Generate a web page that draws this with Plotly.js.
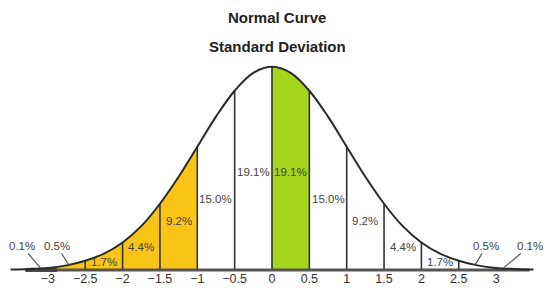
<!DOCTYPE html>
<html>
<head>
<meta charset="utf-8">
<script src="https://cdn.plot.ly/plotly-3.0.1.min.js"></script>
<style>html,body{margin:0;padding:0;background:#fff;}#chart{width:554px;height:290px;}</style>
</head>
<body>
<div id="chart"></div>
<script>
// ---- data ----
const curveX = [-3.5,-3.25,-3,-2.75,-2.5,-2.25,-2,-1.75,-1.5,-1.25,-1,-0.75,-0.5,-0.25,0,0.25,0.5,0.75,1,1.25,1.5,1.75,2,2.25,2.5,2.75,3,3.25,3.5];
const curveY = [0.001,0.002,0.004,0.009,0.018,0.032,0.054,0.086,0.130,0.183,0.242,0.301,0.352,0.387,0.399,0.387,0.352,0.301,0.242,0.183,0.130,0.086,0.054,0.032,0.018,0.009,0.004,0.002,0.001];
const dividers = [-2.5,-2,-1.5,-1,-0.5,0,0.5,1,1.5,2,2.5];
const yellowBand = [-3,-1];
const greenBand = [0,0.5];
const bandStart = [-3.5,-3,-2.5,-2,-1.5,-1,-0.5,0,0.5,1,1.5,2,2.5,3];
const bandEnd   = [-3,-2.5,-2,-1.5,-1,-0.5,0,0.5,1,1.5,2,2.5,3,3.5];
const bandPct   = ['0.1%','0.5%','1.7%','4.4%','9.2%','15.0%','19.1%','19.1%','15.0%','9.2%','4.4%','1.7%','0.5%','0.1%'];
const tickVals = [-3,-2.5,-2,-1.5,-1,-0.5,0,0.5,1,1.5,2,2.5,3];
const tickText = ['\u22123','\u22122.5','\u22122','\u22121.5','\u22121','\u22120.5','0','0.5','1','1.5','2','2.5','3'];
const titleText = 'Normal Curve';
const subtitleText = 'Standard Deviation';

// ---- helpers ----
function curveAt(x){ const i = curveX.indexOf(x); return curveY[i]; }
function segment(a,b){
  const xs=[], ys=[];
  curveX.forEach((x,i)=>{ if(x>=a-1e-9 && x<=b+1e-9){ xs.push(x); ys.push(curveY[i]); } });
  return {x:xs,y:ys};
}

const yellow = 'rgb(249,196,22)';
const green = 'rgb(166,214,28)';
const ink = '#2a2a2a';

const ys = segment(yellowBand[0], yellowBand[1]);
const gs = segment(greenBand[0], greenBand[1]);

const divX=[], divY=[];
dividers.forEach(d=>{ divX.push(d,d,null); divY.push(0,curveAt(d),null); });

const traces = [
  {x:ys.x, y:ys.y, type:'scatter', mode:'lines', line:{shape:'spline', width:0, color:yellow}, fill:'tozeroy', fillcolor:yellow, hoverinfo:'skip'},
  {x:gs.x, y:gs.y, type:'scatter', mode:'lines', line:{shape:'spline', width:0, color:green}, fill:'tozeroy', fillcolor:green, hoverinfo:'skip'},
  {x:divX, y:divY, type:'scatter', mode:'lines', line:{color:'#333', width:1.6}, hoverinfo:'skip'},
  {x:[curveX[0]+0.2, curveX[curveX.length-1]-0.05], y:[0,0], type:'scatter', mode:'lines', line:{color:'#555', width:3}, hoverinfo:'skip'},
  {x:[curveX[0]+0.2, yellowBand[0]+0.12], y:[0,0], type:'scatter', mode:'lines', line:{color:'#444', width:4}, hoverinfo:'skip'},
  {x:curveX, y:curveY, type:'scatter', mode:'lines', line:{shape:'spline', color:ink, width:2}, hoverinfo:'skip'}
];

// label placement (layout, not data)
const labelY = [0.047,0.047,0.016,0.045,0.096,0.139,0.192,0.192,0.139,0.096,0.045,0.016,0.047,0.047];
const annFont = {family:'Liberation Sans, Arial, sans-serif', size:11.5, color:'#444'};
const annotations = [];
bandPct.forEach((t,i)=>{
  const cx = (bandStart[i]+bandEnd[i])/2;
  const tail = (i===0 || i===1 || i===12 || i===13);
  if(!tail){
    annotations.push({x:cx, y:labelY[i], xref:'x', yref:'y', text:t, showarrow:false, font:annFont});
  }
});
// tail labels with leader lines
const pxPerX = 74.7, pxPerY = 509.3;
const tailSpec = [
  {i:0,  tip:-3.1,  tipY:0.004},
  {i:1,  tip:-2.72, tipY:0.010},
  {i:12, tip:2.72,  tipY:0.010},
  {i:13, tip:3.1,   tipY:0.004}
];
const tailTextX = [-3.35,-2.88,2.87,3.45];
tailSpec.forEach((s,k)=>{
  annotations.push({x:s.tip, y:s.tipY, xref:'x', yref:'y', text:bandPct[s.i], showarrow:true, arrowhead:0, arrowwidth:1.2, arrowcolor:'#555',
    ax:(tailTextX[k]-s.tip)*pxPerX, ay:-(labelY[s.i]-s.tipY)*pxPerY, font:annFont, standoff:0});
});
// titles (paper coords: plot area spans y px 51..273)
const plotTop = 51, plotBottom = 273;
function paperY(px){ return (plotBottom-px)/(plotBottom-plotTop); }
annotations.push({x:0.5, xref:'paper', y:paperY(18), yref:'paper', yanchor:'middle', text:'<b>'+titleText+'</b>', showarrow:false,
  font:{family:'Liberation Sans, Arial, sans-serif', size:15, color:'#222'}});
annotations.push({x:0.5, xref:'paper', y:paperY(47), yref:'paper', yanchor:'middle', text:'<b>'+subtitleText+'</b>', showarrow:false,
  font:{family:'Liberation Sans, Arial, sans-serif', size:15, color:'#222'}});

const layout = {
  width:554, height:290,
  margin:{l:0, r:0, t:51, b:17, pad:0},
  paper_bgcolor:'#fff', plot_bgcolor:'#fff',
  showlegend:false,
  xaxis:{range:[-3.641,3.775], tickvals:tickVals, ticktext:tickText, showgrid:false, zeroline:false, showline:false, ticks:'', automargin:false,
    ticklabelstandoff:-4,
    tickfont:{family:'Liberation Sans, Arial, sans-serif', size:12.5, color:'#333'}, fixedrange:true},
  yaxis:{range:[-0.006,0.43], visible:false, fixedrange:true},
  annotations:annotations
};
Plotly.newPlot('chart', traces, layout, {staticPlot:true, displayModeBar:false});
</script>
</body>
</html>
